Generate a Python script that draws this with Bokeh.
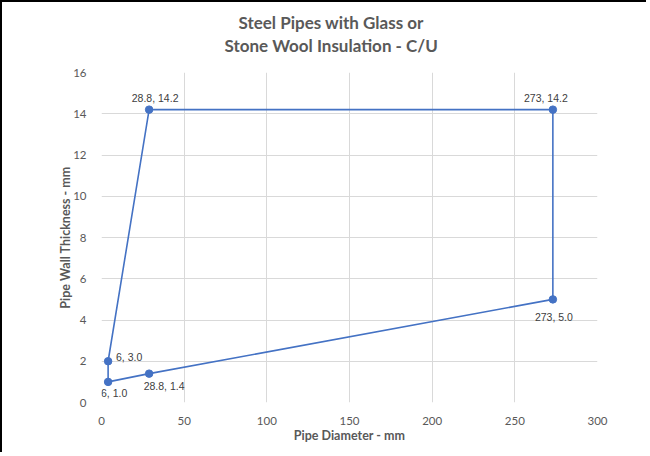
from bokeh.plotting import figure
from bokeh.models import Range1d, FixedTicker, InlineStyleSheet, Title
from bokeh.core.properties import value
from bokeh.embed import file_html
from bokeh.resources import INLINE

# Data
x_vals = [4, 28.8, 273, 273, 28.8, 4]
y_vals = [1.0, 1.4, 5.0, 14.2, 14.2, 2.0]
point_labels = ["6, 1.0", "28.8, 1.4", "273, 5.0", "273, 14.2", "28.8, 14.2", "6, 3.0"]
x_ticks = [0, 50, 100, 150, 200, 250, 300]
y_ticks = [0, 2, 4, 6, 8, 10, 12, 14, 16]
title_lines = ["Steel Pipes with Glass or", "Stone Wool Insulation - C/U"]

BLUE = "#4472C4"
GREY = "#595959"

p = figure(
    width=646, height=452,
    x_range=Range1d(0, 300), y_range=Range1d(0, 16),
    output_backend="svg", toolbar_location=None,
    min_border_left=99, min_border_right=51, min_border_top=70, min_border_bottom=52,
)
p.stylesheets = [InlineStyleSheet(css=":host { border-left: 2px solid black !important; border-top: 2px solid black !important; }")]
p.outline_line_color = None
p.background_fill_color = "white"
p.border_fill_color = "white"

has_standoff = "standoff" in Title.properties()

def style_title(t, off):
    t.align = "left"
    t.text_font = "Lato"
    t.text_font_style = "bold"
    t.text_font_size = "17px"
    t.text_color = GREY
    t.offset = off

# outer line (top)
p.title.text = title_lines[0]
style_title(p.title, 137)
if has_standoff:
    p.title.standoff = -34
# inner line (nearest the frame)
t2 = Title(text=title_lines[1])
style_title(t2, 123)
if has_standoff:
    t2.standoff = 34
p.add_layout(t2, "above")

for ax in (p.xaxis, p.yaxis):
    ax.axis_line_color = None
    ax.major_tick_line_color = None
    ax.minor_tick_line_color = None
    ax.major_label_text_font = "Lato"
    ax.major_label_text_font_size = "11.5px"
    ax.major_label_text_color = GREY
    ax.axis_label_text_font = "Lato"
    ax.axis_label_text_font_style = "bold"
    ax.axis_label_text_font_size = "12.5px"
    ax.axis_label_text_color = GREY

p.xaxis.ticker = FixedTicker(ticks=x_ticks)
p.yaxis.ticker = FixedTicker(ticks=y_ticks)
p.xaxis.major_label_standoff = 8
p.yaxis.major_label_standoff = 9
p.xaxis.axis_label = "Pipe Diameter - mm"
p.yaxis.axis_label = "Pipe Wall Thickness - mm"
p.xaxis.axis_label_standoff = 0
p.yaxis.axis_label_standoff = -3

p.xgrid.ticker = FixedTicker(ticks=x_ticks)
p.ygrid.ticker = FixedTicker(ticks=y_ticks)
p.grid.grid_line_color = "#d9d9d9"
p.grid.grid_line_width = 1

# closed outline
p.line(x_vals + x_vals[:1], y_vals + y_vals[:1], line_color=BLUE, line_width=1.6)
p.scatter(x_vals, y_vals, size=7.5, fill_color=BLUE, line_color=BLUE)

dx = [6, 15, 1, -7, 6, 21]
dy = [11, 12, 18, -12, -12, -4]
p.text(x_vals, y_vals, text=point_labels, x_offset=dx, y_offset=dy,
       text_align="center", text_baseline="middle",
       text_font=value("Liberation Sans"), text_font_size="10.5px", text_color="#404040")

open("out.html", "w").write(file_html(p, INLINE))
